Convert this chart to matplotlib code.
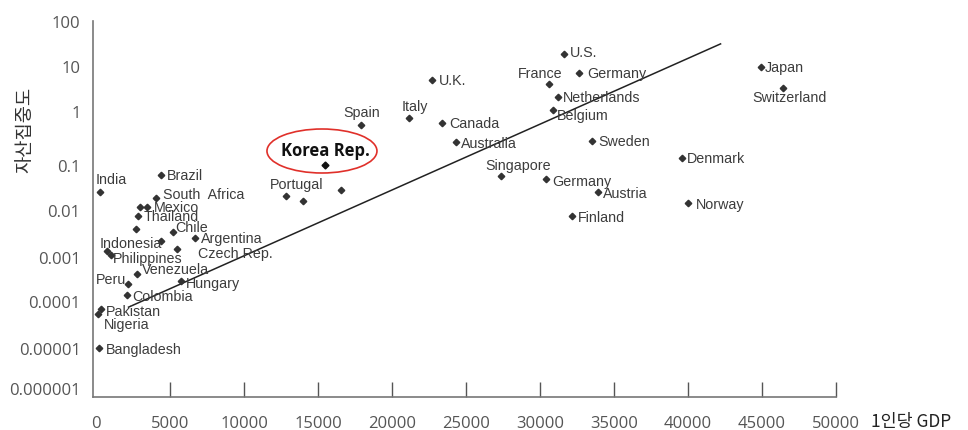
import matplotlib
matplotlib.use('Agg')
import matplotlib.pyplot as plt
from matplotlib.patches import Ellipse
from matplotlib.transforms import IdentityTransform
import numpy as np


# data
countries = ['India', 'Brazil', 'South  Africa', '', 'Mexico', 'Thailand', '', 'Chile',
             'Argentina', 'Indonesia', 'Czech Rep.', '', 'Philippines', 'Venezuela', 'Peru',
             'Hungary', 'Colombia', 'Pakistan', 'Nigeria', 'Bangladesh',
             'Portugal', '', '', 'Spain', 'Italy', 'Canada', 'Australia', 'Singapore',
             'Germany', 'U.K.', 'U.S.', 'France', 'Germany', 'Netherlands', 'Belgium',
             'Sweden', 'Denmark', 'Austria', 'Finland', 'Norway', 'Japan', 'Switzerland']
gdp = [270, 4400, 4050, 2970, 3450, 2840, 2700, 5200,
       6690, 4390, 5470, 740, 1010, 2770, 2160,
       5740, 2100, 340, 140, 200,
       12840, 13990, 16550, 17910, 21150, 23380, 24330, 27370,
       30410, 22700, 31620, 30610, 32640, 31220, 30880,
       33510, 39600, 33920, 32160, 40000, 44930, 46420]
conc = [0.025, 0.06, 0.0185, 0.0117, 0.0117, 0.0075, 0.004, 0.0034,
        0.0025, 0.0022, 0.0015, 0.00135, 0.0011, 0.00041, 0.000245,
        0.00028, 0.000137, 6.8e-5, 5.3e-5, 1e-5,
        0.0205, 0.0158, 0.028, 0.55, 0.74, 0.6, 0.27, 0.057,
        0.049, 4.9, 18.5, 4.0, 6.9, 2.05, 1.05,
        0.28, 0.135, 0.025, 0.0074, 0.0144, 9.5, 3.2]

korea_gdp, korea_conc = 15470, 0.1

trend_x = [2200, 42200]
trend_y = [7.4e-5, 31]

xticks = list(range(0, 50001, 5000))
yticks = [1e-6, 1e-5, 1e-4, 1e-3, 1e-2, 0.1, 1, 10, 100]
ytick_labels = ['0.000001', '0.00001', '0.0001', '0.001', '0.01', '0.1', '1', '10', '100']

# the printed axis has uneven decade spacing: height of each decade tick
dec_pos = np.array([0, 40, 87, 131, 178, 223, 277, 322, 367], dtype=float)
dec_log = np.arange(-6, 3, dtype=float)


def fwd(y):
    lg = np.log10(np.clip(y, 1e-12, None))
    out = np.interp(lg, dec_log, dec_pos)
    out = np.where(lg < -6, (lg + 6) * 45.9, out)
    out = np.where(lg > 2, 367 + (lg - 2) * 45.9, out)
    return out


def inv(p):
    lg = np.interp(p, dec_pos, dec_log)
    lg = np.where(p < 0, -6 + p / 45.9, lg)
    lg = np.where(p > 367, 2 + (p - 367) / 45.9, lg)
    return 10 ** lg


# label placement (pixel offsets from the marker, horizontal alignment)
offsets = {0: (-4, 13, 'left'), 1: (6, 0, 'left'), 2: (7, 4, 'left'), 4: (7, 0, 'left'),
           5: (6, 0, 'left'), 7: (2, 5, 'left'), 8: (6, 0, 'left'), 9: (1, -2, 'right'),
           10: (21, -4, 'left'), 12: (2, -3, 'left'), 13: (5, 5, 'left'), 14: (-2, 5, 'right'),
           15: (5, -2, 'left'), 16: (5, -1, 'left'), 17: (5, -2, 'left'), 18: (6, -10, 'left'),
           19: (7, -1, 'left'), 20: (11, 12, 'center'), 23: (1, 13, 'center'),
           24: (6, 12, 'center'), 25: (7, 0, 'left'), 26: (5, -1, 'left'),
           27: (17, 11, 'center'), 28: (6, -2, 'left'), 29: (7, 0, 'left'), 30: (6, 2, 'left'),
           31: (-9, 11, 'center'), 32: (8, 0, 'left'), 33: (5, 0, 'left'), 34: (4, -5, 'left'),
           35: (6, 0, 'left'), 36: (5, 0, 'left'), 37: (5, -1, 'left'), 38: (6, -1, 'left'),
           39: (8, -1, 'left'), 40: (4, 0, 'left'), 41: (6, -9, 'center')}

fig = plt.figure(figsize=(9.68, 4.31), dpi=100)
ax = fig.add_axes([93/968, 1-398/431, 743/968, 376/431])
ax.set_yscale('function', functions=(fwd, inv))
ax.set_xlim(-203, 50000)
ax.set_ylim(inv(np.array(-9.0)), 100)

ax.plot(trend_x, trend_y, color='#222222', lw=1.1)
ax.plot(gdp, conc, 'D', color='#333333', ms=3.3, ls='none')
ax.plot([korea_gdp], [korea_conc], 'D', color='#111111', ms=3.5)

for i, name in enumerate(countries):
    if not name:
        continue
    dx, dy, ha = offsets[i]
    ax.annotate(name, (gdp[i], conc[i]), xytext=(dx, dy), textcoords='offset pixels',
                ha=ha, va='center', fontsize=10.3, color='#3c3c3c', family='Liberation Sans')

ax.annotate('Korea Rep.', (korea_gdp, korea_conc), xytext=(0, 15), textcoords='offset pixels',
            ha='center', va='center', fontsize=12, fontweight='bold', color='#111111',
            family='Open Sans')

# red ellipse around Korea, drawn in pixels
kx, ky = ax.transData.transform((korea_gdp, korea_conc))
ell = Ellipse((kx - 3, ky + 14), 110, 44, transform=IdentityTransform(),
              fill=False, ec='#e0302a', lw=1.2, clip_on=False)
fig.add_artist(ell)

for s in ['top', 'right']:
    ax.spines[s].set_visible(False)
for s in ['left', 'bottom']:
    ax.spines[s].set_color('#777777')
    ax.spines[s].set_linewidth(1.2)

ax.set_xticks(xticks)
ax.set_xticklabels([str(t) for t in xticks])
ax.tick_params(axis='x', direction='in', length=11, width=1, color='#555555',
               labelsize=12, labelcolor='#555555', pad=13)
ax.xaxis.get_major_ticks()[0].tick1line.set_visible(False)
ax.set_yticks(yticks)
ax.set_yticklabels(ytick_labels)
ax.minorticks_off()
ax.tick_params(axis='y', length=0, labelsize=12, labelcolor='#555555', pad=9)
for lab in ax.get_xticklabels() + ax.get_yticklabels():
    lab.set_family('Open Sans')

fig.text(25/968, 1-130/431, '자산집중도', rotation=90, ha='center', va='center',
         fontsize=13.5, color='#333333', family=['Noto Sans CJK KR', 'DejaVu Sans'])
fig.text(871/968, 1-422/431, '1인당 GDP', ha='left', va='center',
         fontsize=12.5, color='#222222', family=['Noto Sans CJK KR', 'DejaVu Sans'])

fig.savefig('out.png', dpi=100)
